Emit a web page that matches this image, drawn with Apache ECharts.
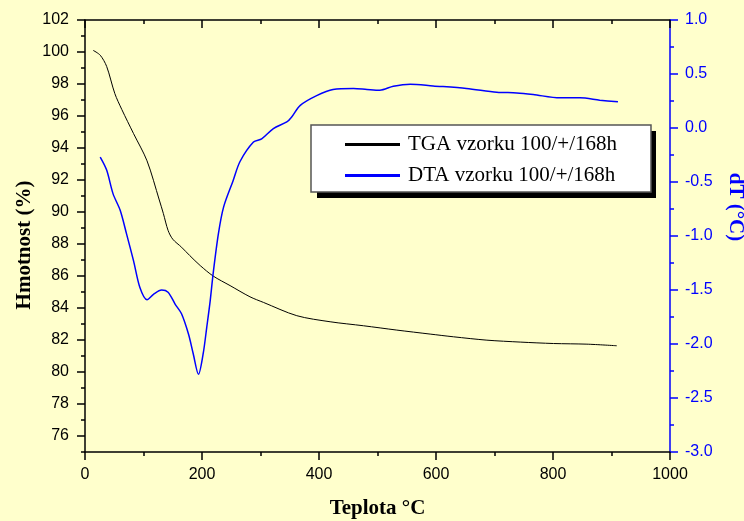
<!DOCTYPE html>
<html><head><meta charset="utf-8">
<script src="https://cdn.jsdelivr.net/npm/echarts@6/dist/echarts.min.js"></script>
<style>html,body{margin:0;padding:0;background:#FFFFCC}#c{width:744px;height:521px}</style>
</head><body><div id="c"></div>
<script>
// TGA: temperature (°C) and mass (%)
const tgaTemp = [14, 26, 37, 51, 63, 83, 106, 127, 134, 142, 150, 165, 179, 197, 219, 248, 282, 305, 362, 419, 476, 533, 590, 630, 687, 744, 801, 858, 909];
const tgaMass = [100.1, 99.8, 99.1, 97.4, 96.4, 94.9, 93.2, 90.75, 89.9, 88.85, 88.3, 87.8, 87.28, 86.65, 86.0, 85.4, 84.7, 84.35, 83.52, 83.14, 82.89, 82.62, 82.37, 82.2, 81.99, 81.87, 81.78, 81.74, 81.64];
// DTA: temperature (°C) and dT (°C)
const dtaTemp = [26, 37, 48, 60, 71, 83, 94, 106, 117, 131, 142, 154, 165, 177, 185, 194, 202, 208, 214, 219, 228, 237, 253, 265, 288, 302, 322, 345, 353, 368, 396, 424, 459, 482, 504, 527, 556, 595, 652, 704, 738, 766, 812, 846, 880, 911];
const dtaDT = [-0.27, -0.39, -0.61, -0.76, -0.98, -1.23, -1.48, -1.59, -1.54, -1.50, -1.52, -1.63, -1.72, -1.91, -2.09, -2.28, -2.09, -1.85, -1.60, -1.35, -0.98, -0.73, -0.49, -0.31, -0.13, -0.10, -0.005, 0.056, 0.10, 0.21, 0.30, 0.357, 0.366, 0.357, 0.35, 0.387, 0.406, 0.39, 0.366, 0.332, 0.325, 0.31, 0.279, 0.279, 0.258, 0.242];
// tick labels
const massTicks = [76, 78, 80, 82, 84, 86, 88, 90, 92, 94, 96, 98, 100, 102];
const massMinorTicks = [75, 77, 79, 81, 83, 85, 87, 89, 91, 93, 95, 97, 99, 101];
const seriesNames = ['TGA vzorku 100/+/168h', 'DTA vzorku 100/+/168h'];

const tgaData = tgaTemp.map((t, i) => [t, tgaMass[i]]);
const dtaData = dtaTemp.map((t, i) => [t, dtaDT[i]]);

const chart = echarts.init(document.getElementById('c'), null, {renderer: 'canvas'});
const sans = 'Liberation Sans, Arial, sans-serif';
const serif = 'Liberation Serif, Times New Roman, serif';
const black = '#000000', blue = '#0000FF';

const option = {
  backgroundColor: '#FFFFCC',
  animation: false,
  grid: {left: 85, right: 74, top: 20, bottom: 69, containLabel: false, outerBoundsMode: 'none'},
  legend: {
    orient: 'vertical', left: 311, top: 125, padding: [9, 34, 6, 34], itemGap: 10,
    itemWidth: 55, itemHeight: 3, icon: 'rect', z: 5,
    backgroundColor: '#ffffff', borderColor: '#555555', borderWidth: 1.5,
    textStyle: {fontFamily: serif, fontSize: 21, color: black, padding: [0, 0, 0, 3]},
    data: seriesNames
  },
  xAxis: [
    {
      type: 'value', position: 'bottom', min: 0, max: 1000, interval: 200,
      name: 'Teplota °C', nameLocation: 'middle', nameGap: 46,
      nameTextStyle: {fontFamily: serif, fontWeight: 'bold', fontSize: 21, color: black},
      axisLine: {onZero: false, lineStyle: {color: black, width: 1.5}},
      axisTick: {length: 8, lineStyle: {color: black, width: 1.5}},
      minorTick: {show: true, splitNumber: 2, length: 4, lineStyle: {color: black, width: 1.5}},
      axisLabel: {fontFamily: sans, fontSize: 16, color: black, margin: 15, formatter: v => String(v)},
      splitLine: {show: false}
    },
    {
      type: 'value', position: 'top', min: 0, max: 1000, interval: 200,
      axisLine: {onZero: false, lineStyle: {color: black, width: 1.5}},
      axisTick: {inside: true, length: 8, lineStyle: {color: black, width: 1.5}},
      minorTick: {show: true, splitNumber: 2, length: 4, lineStyle: {color: black, width: 1.5}},
      axisLabel: {show: false},
      splitLine: {show: false}
    }
  ],
  yAxis: [
    {
      type: 'value', position: 'left', min: 75, max: 102, interval: 1,
      axisLine: {onZero: false, lineStyle: {color: black, width: 1.5}},
      axisTick: {customValues: massTicks, length: 8, lineStyle: {color: black, width: 1.5}},
      axisLabel: {customValues: massTicks, fontFamily: sans, fontSize: 16, color: black, margin: 16},
      splitLine: {show: false}
    },
    {
      type: 'value', position: 'right', min: -3, max: 1, interval: 0.5,
      axisLine: {onZero: false, lineStyle: {color: blue, width: 1.5}},
      axisTick: {length: 8, lineStyle: {color: blue, width: 1.5}},
      minorTick: {show: true, splitNumber: 2, length: 4, lineStyle: {color: blue, width: 1.5}},
      axisLabel: {fontFamily: sans, fontSize: 16, color: blue, margin: 15, formatter: v => v.toFixed(1)},
      splitLine: {show: false}
    },
    {
      type: 'value', position: 'left', min: 75, max: 102, interval: 1,
      axisLine: {show: false},
      axisTick: {customValues: massMinorTicks, length: 4, lineStyle: {color: black, width: 1.5}},
      axisLabel: {show: false},
      splitLine: {show: false}
    }
  ],
  graphic: [
    {type: 'rect', z: 3, shape: {x: 317, y: 131, width: 339, height: 67}, style: {fill: '#000000'}},
    {type: 'text', x: 25, y: 245, rotation: Math.PI / 2,
     style: {text: 'Hmotnost (%)', fontFamily: serif, fontWeight: 'bold', fontSize: 21, fill: black, align: 'center', verticalAlign: 'middle'}},
    {type: 'text', x: 735, y: 207, rotation: -Math.PI / 2,
     style: {text: 'dT (°C)', fontFamily: serif, fontWeight: 'bold', fontSize: 21, fill: blue, align: 'center', verticalAlign: 'middle'}}
  ],
  series: [
    {name: seriesNames[0], type: 'line', xAxisIndex: 0, yAxisIndex: 0, data: tgaData,
     showSymbol: false, smooth: 0.3, lineStyle: {color: black, width: 1}, itemStyle: {color: black}},
    {name: seriesNames[1], type: 'line', xAxisIndex: 0, yAxisIndex: 1, data: dtaData,
     showSymbol: false, smooth: 0.3, lineStyle: {color: blue, width: 1.5}, itemStyle: {color: blue}}
  ]
};
chart.setOption(option);
</script>
</body></html>
